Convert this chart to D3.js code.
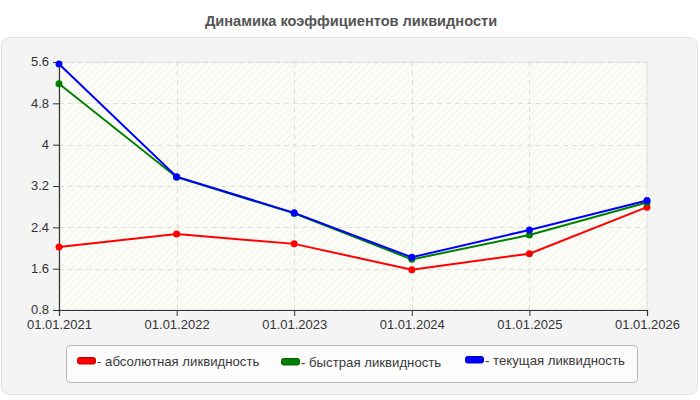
<!DOCTYPE html>
<html>
<head>
<meta charset="utf-8">
<script src="https://cdn.jsdelivr.net/npm/d3@7"></script>
<style>
  body { margin: 0; background: #fff; }
  svg { display: block; font-family: Arial, "Liberation Sans", sans-serif; }
</style>
</head>
<body>
<div id="chart"></div>
<script>
// значения
const dates = ["01.01.2021", "01.01.2022", "01.01.2023", "01.01.2024", "01.01.2025", "01.01.2026"];
const absolute = [2.02, 2.27, 2.08, 1.58, 1.89, 2.79];
const quick = [5.18, 3.37, 2.67, 1.78, 2.25, 2.88];
const current = [5.56, 3.38, 2.68, 1.82, 2.35, 2.92];
const yTicks = [0.8, 1.6, 2.4, 3.2, 4, 4.8, 5.6];

const series = [
  { name: "- абсолютная ликвидность", values: absolute, color: "#ff0000", lx: 77, ly: 357 },
  { name: "- быстрая ликвидность", values: quick, color: "#008000", lx: 281, ly: 358 },
  { name: "- текущая ликвидность", values: current, color: "#0000ff", lx: 465, ly: 356 }
];

const W = 700, H = 400;
const margin = { top: 62, left: 59, right: 53, bottom: 90 };
const width = W - margin.left - margin.right,
      height = H - margin.top - margin.bottom;

const svg = d3.select("#chart").append("svg")
  .attr("width", W)
  .attr("height", H);

// штриховка фона
const defs = svg.append("defs");
const pat = defs.append("pattern")
  .attr("id", "hatch")
  .attr("patternUnits", "userSpaceOnUse")
  .attr("width", 5).attr("height", 5)
  .attr("patternTransform", "rotate(45)");
pat.append("rect").attr("width", 5).attr("height", 5).attr("fill", "#fdfdf8");
pat.append("line")
  .attr("x1", 0).attr("y1", 0).attr("x2", 0).attr("y2", 5)
  .attr("stroke", "#efefea").attr("stroke-width", 1.5);

svg.append("text")
  .attr("x", 351).attr("y", 26)
  .attr("text-anchor", "middle")
  .style("font-size", "14.6px")
  .style("font-weight", "bold")
  .style("fill", "#555")
  .text("Динамика коэффициентов ликвидности");

// панель
svg.append("rect")
  .attr("x", 1.5).attr("y", 37.5)
  .attr("width", 696).attr("height", 357)
  .attr("rx", 8)
  .attr("fill", "#f4f4f4")
  .attr("stroke", "#e2e2e2");

const g = svg.append("g")
  .attr("transform", "translate(" + margin.left + "," + margin.top + ")");

const x = d3.scalePoint().domain(dates).range([0, width]);
const y = d3.scaleLinear().domain([0.8, 5.6]).range([height, 0]);

g.append("rect")
  .attr("width", width).attr("height", height)
  .attr("fill", "url(#hatch)")
  .attr("stroke", "#dddddd");

// сетка
g.selectAll(".hgrid")
  .data(yTicks.slice(1))
  .enter().append("line")
  .attr("x1", 0).attr("x2", width)
  .attr("y1", d => Math.round(y(d)) + 0.5).attr("y2", d => Math.round(y(d)) + 0.5)
  .attr("stroke", "#dedede")
  .attr("stroke-dasharray", "5,4");

g.selectAll(".vgrid")
  .data(dates.slice(1, -1))
  .enter().append("line")
  .attr("x1", d => Math.round(x(d)) + 0.5).attr("x2", d => Math.round(x(d)) + 0.5)
  .attr("y1", 0).attr("y2", height)
  .attr("stroke", "#dedede")
  .attr("stroke-dasharray", "5,4");

const xAxis = d3.axisBottom(x).tickSize(6).tickPadding(4);
const yAxis = d3.axisLeft(y).tickValues(yTicks).tickSize(6).tickPadding(4)
  .tickFormat(d => String(+d.toFixed(1)));

const gx = g.append("g")
  .attr("transform", "translate(0," + height + ")")
  .call(xAxis);
const gy = g.append("g").call(yAxis);

[gx, gy].forEach(a => {
  a.select(".domain").attr("stroke", "#333").attr("stroke-width", 1.2);
  a.selectAll(".tick line").attr("stroke", "#333");
  a.selectAll(".tick text")
    .style("font-size", "13px")
    .style("fill", "#333")
    .style("font-family", "Arial, 'Liberation Sans', sans-serif");
});
gy.selectAll(".tick text").attr("dy", "0.3em");

const line = d3.line()
  .x((d, i) => x(dates[i]))
  .y(d => y(d));

series.forEach(s => {
  g.append("path")
    .datum(s.values)
    .attr("fill", "none")
    .attr("stroke", s.color)
    .attr("stroke-width", 2)
    .attr("d", line);

  g.selectAll(null)
    .data(s.values)
    .enter().append("circle")
    .attr("cx", (d, i) => x(dates[i]))
    .attr("cy", d => y(d))
    .attr("r", 3.5)
    .attr("fill", s.color);
});

// легенда
svg.append("rect")
  .attr("x", 66.5).attr("y", 345.5)
  .attr("width", 571).attr("height", 37)
  .attr("rx", 4)
  .attr("fill", "#fcfcfc")
  .attr("stroke", "#b4b4b4");

series.forEach(s => {
  svg.append("rect")
    .attr("x", s.lx + 0.5).attr("y", s.ly + 0.5)
    .attr("width", 18).attr("height", 6.5)
    .attr("rx", 2)
    .attr("fill", s.color)
    .attr("stroke", d3.color(s.color).darker(0.8))
    .attr("stroke-width", 1);
  svg.append("text")
    .attr("x", s.lx + 20).attr("y", s.ly + 8.5)
    .style("font-size", "13.2px")
    .style("fill", "#3a3a3a")
    .text(s.name);
});
</script>
</body>
</html>
